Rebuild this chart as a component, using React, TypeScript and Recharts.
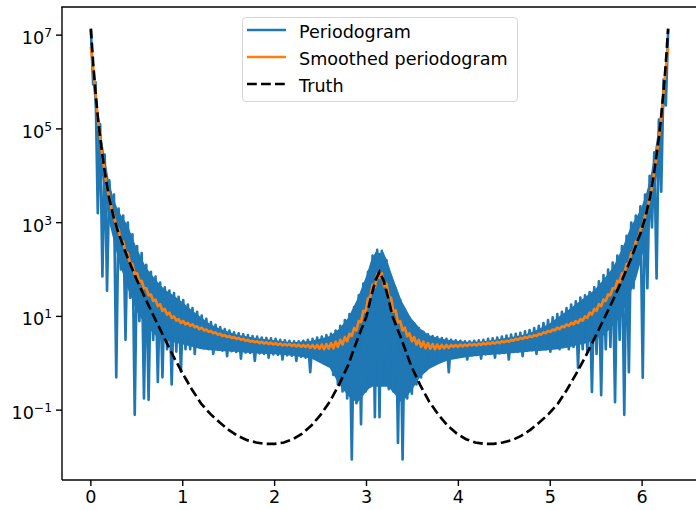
import { ComposedChart, Line, Area, XAxis, YAxis } from "recharts";

const FONT = "DejaVu Sans, sans-serif";
const BLUE = "#1f77b4";
const ORANGE = "#ff7f0e";

// frequencies 2*pi*k/250, k = 0..250
const N = 250;
const step = (2 * Math.PI) / N;

// log10 of the raw periodogram
const periodogramLog = [
  7.12, 5.95, 6.0, 3.2, 5.1, 1.85, 4.45, 1.55, 3.9, 3.0,
  3.6, -0.3, 3.3, 2.0, 3.15, 0.5, 3.0, 1.4, 2.75, -1.1,
  2.5, 0.9, 2.35, -0.75, 2.1, -0.78, 1.95, 0.5, 1.85, -0.4,
  1.72, -0.3, 1.62, 0.3, 1.55, -0.45, 1.5, 0.25, 1.42, -0.18,
  1.35, 0.3, 1.25, 0.3, 1.18, 0.2, 1.1, 0.35, 1.02, 0.32,
  0.95, 0.3, 0.88, 0.2, 0.82, 0.3, 0.77, 0.27, 0.73, 0.15,
  0.7, 0.26, 0.66, 0.24, 0.64, 0.1, 0.62, 0.23, 0.6, 0.22,
  0.58, 0.05, 0.57, 0.21, 0.55, 0.2, 0.54, 0.12, 0.53, 0.19,
  0.52, 0.18, 0.5, 0.08, 0.49, 0.17, 0.48, 0.16, 0.47, 0.05,
  0.47, 0.14, 0.48, 0.12, 0.5, -0.19, 0.52, 0.1, 0.55, 0.05,
  0.57, 0.0, 0.6, -0.05, 0.63, -0.25, 0.7, -0.45, 0.8, -0.6,
  0.92, -0.75, 1.05, -2.05, 1.2, -0.85, 1.45, -1.3, 1.7, -0.6,
  1.95, -0.5, 2.3, -1.15, 2.42, -1.15, 2.4, -0.45, 2.2, -0.55,
  1.85, -0.6, 1.6, -1.7, 1.35, -2.05, 1.12, -0.75, 0.97, -0.65,
  0.85, -0.45, 0.75, -0.3, 0.67, -0.15, 0.62, -0.05, 0.58, 0.0,
  0.56, 0.05, 0.54, 0.1, 0.52, -0.19, 0.5, 0.12, 0.49, 0.14,
  0.48, 0.15, 0.47, 0.08, 0.47, 0.17, 0.48, 0.18, 0.49, 0.1,
  0.5, 0.19, 0.52, 0.2, 0.53, 0.12, 0.55, 0.21, 0.57, 0.22,
  0.59, 0.08, 0.61, 0.24, 0.63, 0.25, 0.65, 0.15, 0.68, 0.27,
  0.71, 0.28, 0.75, 0.2, 0.8, 0.3, 0.86, 0.3, 0.92, 0.25,
  0.98, 0.35, 1.05, 0.3, 1.1, 0.4, 1.18, 0.3, 1.25, 0.35,
  1.32, -0.1, 1.4, 0.3, 1.45, 0.25, 1.52, -0.61, 1.62, 0.2,
  1.75, -0.68, 1.88, 0.3, 2.0, 0.35, 2.15, -0.83, 2.3, 0.5,
  2.5, -1.1, 2.72, -0.19, 3.0, 1.6, 3.15, 2.2, 3.35, -0.31,
  3.6, 1.6, 4.0, 2.9, 4.5, 1.81, 5.2, 3.66, 6.05, 5.5,
  7.12,
];

// dense part of the periodogram band (lower / upper edge, log10)
const bandFreq = [
  0, 0.025, 0.05, 0.075, 0.1, 0.15, 0.2, 0.25, 0.3, 0.35, 0.4, 0.5, 0.6, 0.7, 0.8,
  0.9, 1.0, 1.1, 1.2, 1.3, 1.4, 1.5, 1.6, 1.8, 2.0, 2.2, 2.4, 2.5, 2.6, 2.7, 2.8,
  2.9, 3.0, 3.05, 3.1, 3.1416,
  3.1832, 3.2332, 3.2832, 3.3832, 3.4832, 3.5832, 3.6832, 3.7832, 3.8832, 4.0832,
  4.2832, 4.4832, 4.6832, 4.7832, 4.8832, 4.9832, 5.0832, 5.1832, 5.2832, 5.3832,
  5.4832, 5.5832, 5.6832, 5.7832, 5.8832, 5.9332, 5.9832, 6.0332, 6.0832, 6.1332,
  6.1832, 6.2082, 6.2332, 6.2582, 6.2832,
];
const bandLowLog = [
  7.0, 5.9, 5.3, 4.7, 4.3, 3.6, 3.0, 2.6, 2.2, 1.9, 1.6, 1.1, 0.8, 0.6, 0.5,
  0.45, 0.4, 0.35, 0.3, 0.28, 0.26, 0.25, 0.24, 0.21, 0.19, 0.16, 0.1, 0.0, -0.1, -0.45, -0.7,
  -0.85, -0.6, -0.5, -0.5, -0.5,
  -0.5, -0.5, -0.6, -0.85, -0.6, -0.3, -0.12, -0.02, 0.06, 0.13,
  0.17, 0.2, 0.23, 0.25, 0.26, 0.28, 0.3, 0.33, 0.38, 0.42,
  0.5, 0.6, 0.8, 1.05, 1.55, 1.8, 2.15, 2.55, 3.0, 3.6,
  4.3, 4.7, 5.3, 5.9, 7.0,
];
const bandHighLog = [
  7.1, 6.45, 5.95, 5.45, 5.05, 4.4, 3.85, 3.5, 3.25, 3.1, 2.95, 2.45, 2.05, 1.8, 1.58,
  1.45, 1.3, 1.13, 0.98, 0.84, 0.74, 0.67, 0.61, 0.54, 0.49, 0.45, 0.48, 0.53, 0.58, 0.73, 0.97,
  1.37, 1.88, 2.2, 2.38, 2.35,
  2.38, 2.15, 1.85, 1.33, 0.97, 0.74, 0.6, 0.54, 0.5, 0.46,
  0.47, 0.53, 0.6, 0.65, 0.74, 0.84, 0.98, 1.12, 1.27, 1.42,
  1.57, 1.8, 2.05, 2.45, 2.95, 3.1, 3.28, 3.55, 3.9, 4.45,
  5.1, 5.5, 6.0, 6.45, 7.1,
];

// log10 of the smoothed periodogram
const smoothedLog = [
  6.75, 6.3, 5.78, 5.22, 4.82, 4.4, 4.1, 3.74, 3.55, 3.28,
  3.15, 2.92, 2.86, 2.62, 2.6, 2.38, 2.35, 2.12, 2.12, 1.9,
  1.92, 1.74, 1.76, 1.6, 1.6, 1.45, 1.47, 1.33, 1.36, 1.22,
  1.26, 1.12, 1.16, 1.04, 1.08, 0.97, 1.0, 0.91, 0.94, 0.86,
  0.9, 0.83, 0.86, 0.8, 0.83, 0.77, 0.79, 0.73, 0.76, 0.7,
  0.72, 0.67, 0.69, 0.64, 0.66, 0.61, 0.63, 0.58, 0.6, 0.56,
  0.58, 0.54, 0.56, 0.52, 0.54, 0.5, 0.52, 0.48, 0.5, 0.46,
  0.48, 0.45, 0.47, 0.43, 0.46, 0.42, 0.45, 0.41, 0.44, 0.4,
  0.43, 0.39, 0.42, 0.38, 0.41, 0.38, 0.41, 0.37, 0.4, 0.36,
  0.4, 0.35, 0.39, 0.35, 0.39, 0.33, 0.39, 0.32, 0.39, 0.31,
  0.4, 0.3, 0.41, 0.31, 0.43, 0.32, 0.46, 0.35, 0.5, 0.4,
  0.56, 0.47, 0.63, 0.58, 0.75, 0.7, 0.9, 0.88, 1.12, 1.1,
  1.38, 1.42, 1.68, 1.62, 1.9, 1.82, 1.92, 1.64, 1.7, 1.42,
  1.4, 1.1, 1.13, 0.87, 0.9, 0.7, 0.76, 0.58, 0.64, 0.47,
  0.56, 0.4, 0.5, 0.35, 0.46, 0.32, 0.43, 0.31, 0.41, 0.3,
  0.4, 0.31, 0.39, 0.32, 0.39, 0.33, 0.39, 0.35, 0.39, 0.35,
  0.4, 0.36, 0.4, 0.37, 0.41, 0.38, 0.41, 0.38, 0.42, 0.39,
  0.43, 0.4, 0.44, 0.41, 0.45, 0.42, 0.46, 0.43, 0.47, 0.45,
  0.48, 0.46, 0.5, 0.48, 0.52, 0.5, 0.54, 0.52, 0.56, 0.54,
  0.58, 0.56, 0.6, 0.58, 0.63, 0.61, 0.66, 0.64, 0.69, 0.67,
  0.72, 0.7, 0.76, 0.73, 0.79, 0.77, 0.83, 0.8, 0.86, 0.83,
  0.9, 0.86, 0.94, 0.91, 1.0, 0.97, 1.08, 1.04, 1.16, 1.12,
  1.26, 1.22, 1.36, 1.33, 1.47, 1.45, 1.6, 1.6, 1.76, 1.74,
  1.92, 1.9, 2.12, 2.12, 2.35, 2.38, 2.6, 2.62, 2.86, 2.92,
  3.15, 3.28, 3.55, 3.74, 4.1, 4.4, 4.82, 5.22, 5.78, 6.3,
  6.75,
];

// true spectral density
const truthFreq = [
  0, 0.025, 0.05, 0.075, 0.1, 0.125, 0.15, 0.175, 0.2, 0.25, 0.3, 0.4, 0.5, 0.6,
  0.7, 0.8, 0.9, 1.0, 1.1, 1.2, 1.3, 1.4, 1.5, 1.6, 1.7, 1.8, 1.9, 2.0, 2.1, 2.2,
  2.3, 2.4, 2.5, 2.6, 2.7, 2.8, 2.9, 2.95, 3.0, 3.05, 3.1, 3.1416,
  3.1832, 3.2332, 3.2832, 3.3332, 3.3832, 3.4832, 3.5832, 3.6832, 3.7832, 3.8832,
  3.9832, 4.0832, 4.1832, 4.2832, 4.3832, 4.4832, 4.5832, 4.6832, 4.7832, 4.8832,
  4.9832, 5.0832, 5.1832, 5.2832, 5.3832, 5.4832, 5.5832, 5.6832, 5.7832, 5.8832,
  5.9832, 6.0332, 6.0832, 6.1082, 6.1332, 6.1582, 6.1832, 6.2082, 6.2332, 6.2582, 6.2832,
];
const truthLog = [
  7.14, 6.4, 5.8, 5.27, 4.83, 4.45, 4.1, 3.79, 3.52, 3.1, 2.78, 2.25, 1.78, 1.35,
  0.94, 0.54, 0.14, -0.22, -0.56, -0.86, -1.08, -1.26, -1.42, -1.55, -1.64, -1.69, -1.72, -1.72, -1.69, -1.62,
  -1.5, -1.33, -1.1, -0.82, -0.46, -0.04, 0.5, 0.75, 1.0, 1.42, 1.78, 1.95,
  1.78, 1.42, 1.0, 0.75, 0.5, -0.04, -0.46, -0.82, -1.1, -1.33,
  -1.5, -1.62, -1.69, -1.72, -1.72, -1.69, -1.64, -1.55, -1.42, -1.26,
  -1.08, -0.86, -0.56, -0.22, 0.14, 0.54, 0.94, 1.35, 1.78, 2.25,
  2.78, 3.1, 3.52, 3.79, 4.1, 4.45, 4.83, 5.27, 5.8, 6.4, 7.14,
];

const xTicks = [0, 1, 2, 3, 4, 5, 6];
const yTicks = [1e-1, 1e1, 1e3, 1e5, 1e7];

const rows = periodogramLog.map((v, k) => ({
  f: k * step,
  p: Math.pow(10, v),
  s: Math.pow(10, smoothedLog[k]),
}));
const bandRows = bandFreq.map((f, i) => ({
  f,
  band: [Math.pow(10, bandLowLog[i]), Math.pow(10, bandHighLog[i])],
}));
const truthRows = truthFreq.map((f, i) => ({ f, t: Math.pow(10, truthLog[i]) }));

function XTick(props: any) {
  const { x, y, payload } = props;
  return (
    <text x={x} y={y} dy={15} textAnchor="middle" fontFamily={FONT} fontSize={17.6} fill="#000">
      {payload.value}
    </text>
  );
}

function YTick(props: any) {
  const { x, y, payload } = props;
  const e = Math.round(Math.log10(payload.value));
  const exp = e < 0 ? "\u2212" + -e : String(e);
  return (
    <text x={x - 2} y={y + 9} textAnchor="end" fontFamily={FONT} fontSize={17.6} fill="#000">
      <tspan>10</tspan>
      <tspan dy={-7} fontSize={12.3}>{exp}</tspan>
    </text>
  );
}

const legendItems = [
  { name: "Periodogram", color: BLUE, dash: undefined },
  { name: "Smoothed periodogram", color: ORANGE, dash: undefined },
  { name: "Truth", color: "#000", dash: "9.8 4.2" },
];

export default function App() {
  const axisStroke = { stroke: "#000", strokeWidth: 1.4 };
  return (
    <div style={{ position: "absolute", left: 0, top: 0, width: 696, height: 510, overflow: "hidden", background: "#fff" }}>
      <ComposedChart width={720} height={510} data={rows} margin={{ top: 7, right: 23, bottom: 0, left: 0 }}>
        <XAxis
          dataKey="f"
          type="number"
          domain={[-0.31416, 6.59734]}
          allowDataOverflow
          ticks={xTicks}
          interval={0}
          tick={<XTick />}
          tickSize={6}
          tickLine={axisStroke}
          axisLine={axisStroke}
          height={30}
        />
        <YAxis
          type="number"
          scale="log"
          domain={[Math.pow(10, -2.49), Math.pow(10, 7.6)]}
          allowDataOverflow
          ticks={yTicks}
          interval={0}
          tick={<YTick />}
          tickSize={6}
          tickLine={axisStroke}
          axisLine={axisStroke}
          width={62}
        />
        <Area data={bandRows} dataKey="band" type="linear" stroke="none" fill={BLUE} fillOpacity={1} dot={false} activeDot={false} isAnimationActive={false} />
        <Line dataKey="p" type="linear" stroke={BLUE} strokeWidth={2.65} strokeLinejoin="round" dot={false} activeDot={false} isAnimationActive={false} />
        <Line dataKey="s" type="linear" stroke={ORANGE} strokeWidth={2.65} strokeLinejoin="round" dot={false} activeDot={false} isAnimationActive={false} />
        <Line data={truthRows} dataKey="t" type="linear" stroke="#000" strokeWidth={2.65} strokeDasharray="9.8 4.2" dot={false} activeDot={false} isAnimationActive={false} />
      </ComposedChart>
      <svg width={696} height={510} style={{ position: "absolute", left: 0, top: 0, pointerEvents: "none" }}>
        <line x1={61.3} x2={697} y1={7} y2={7} stroke="#000" strokeWidth={1.4} />
        <rect x={242.5} y={17.5} width={275} height={84} rx={3.5} fill="#fff" fillOpacity={0.8} stroke="#d6d6d6" strokeWidth={1} />
        {legendItems.map((it, i) => {
          const cy = 30 + i * 27;
          return (
            <g key={it.name}>
              <line x1={247} x2={286} y1={cy} y2={cy} stroke={it.color} strokeWidth={2.65} strokeDasharray={it.dash} />
              <text x={299} y={cy + 8} fontFamily={FONT} fontSize={17.6} fill="#000">{it.name}</text>
            </g>
          );
        })}
      </svg>
    </div>
  );
}
